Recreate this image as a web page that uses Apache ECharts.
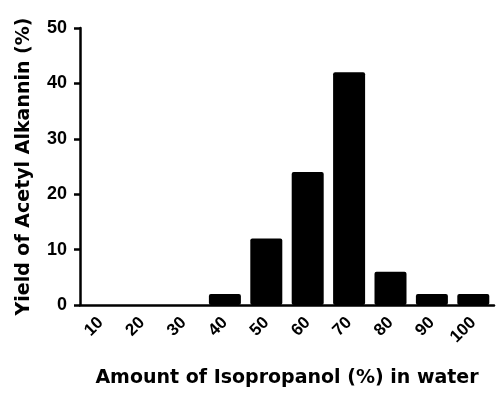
<!DOCTYPE html>
<html>
<head>
<meta charset="utf-8">
<script src="https://cdn.jsdelivr.net/npm/echarts@6/dist/echarts.min.js"></script>
<style>
  html, body { margin: 0; padding: 0; background: #fff; }
  #chart { width: 500px; height: 402px; }
</style>
</head>
<body>
<div id="chart"></div>
<script>
// Isopropanol content of the extraction solvent (%)
const categories = ['10', '20', '30', '40', '50', '60', '70', '80', '90', '100'];
// Acetyl alkannin yield (%) for each solvent mixture
const yieldValues = [0, 0, 0, 2, 12, 24, 42, 6, 2, 2];
// Y axis ticks
const yMin = 0;
const yMax = 50;
const yStep = 10;

const TICK_FONT = '"Liberation Sans", Arial, Helvetica, sans-serif';
const TITLE_FONT = '"DejaVu Sans", Verdana, sans-serif';

const chart = echarts.init(document.getElementById('chart'));
chart.setOption({
  animation: false,
  backgroundColor: '#ffffff',
  grid: { left: 80, right: 6, top: 28, bottom: 97, containLabel: false },
  xAxis: {
    type: 'category',
    data: categories,
    boundaryGap: true,
    name: 'Amount of Isopropanol (%) in water',
    nameLocation: 'middle',
    nameGap: 64,
    nameTextStyle: { fontFamily: TITLE_FONT, fontWeight: 'bold', fontSize: 19, color: '#000' },
    axisLine: { lineStyle: { color: '#000', width: 2.5 } },
    axisTick: { alignWithLabel: true, length: 6, lineStyle: { color: '#000', width: 2.5 } },
    axisLabel: {
      rotate: 45, margin: 15, fontFamily: TICK_FONT, fontWeight: 'bold', fontSize: 17, color: '#000'
    },
    splitLine: { show: false }
  },
  yAxis: {
    type: 'value',
    min: yMin,
    max: yMax,
    interval: yStep,
    name: 'Yield of Acetyl Alkannin (%)',
    nameLocation: 'middle',
    nameGap: 46,
    nameRotate: 90,
    nameTextStyle: { fontFamily: TITLE_FONT, fontWeight: 'bold', fontSize: 19, color: '#000' },
    axisLine: { show: true, lineStyle: { color: '#000', width: 2.5 } },
    axisTick: { show: true, length: 6, lineStyle: { color: '#000', width: 2.5 } },
    axisLabel: { margin: 13, fontFamily: TICK_FONT, fontWeight: 'bold', fontSize: 18, color: '#000' },
    splitLine: { show: false }
  },
  series: [{
    type: 'bar',
    data: yieldValues,
    barWidth: 32,
    itemStyle: { color: '#000', borderRadius: 2 }
  }]
});
</script>
</body>
</html>
